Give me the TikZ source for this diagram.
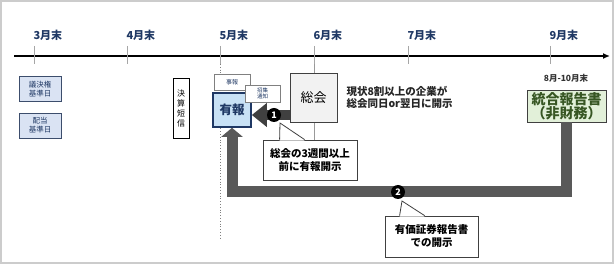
\documentclass[tikz,border=0pt]{standalone}
\usepackage{fontspec}
\setmainfont{Noto Sans CJK JP}
\usetikzlibrary{positioning,arrows.meta}
\definecolor{navy}{RGB}{31,56,100}
\definecolor{boxblue}{RGB}{218,227,243}
\definecolor{yuhoblue}{RGB}{200,225,245}
\definecolor{sokaigray}{RGB}{242,242,242}
\definecolor{togogreen}{RGB}{226,240,217}
\definecolor{togotext}{RGB}{55,86,35}
\definecolor{arrowgray}{RGB}{89,89,89}
\definecolor{darkarrow}{RGB}{64,64,64}

\begin{document}
\begin{tikzpicture}[x=1pt,y=-1pt,
  month/.style={anchor=west,font=\bfseries\fontsize{11}{11}\selectfont,text=navy},
  datebox/.style={draw=navy!70!gray,fill=boxblue,minimum width=42pt,minimum height=25pt,
    inner sep=0pt,align=center,font=\fontsize{7.5}{9}\selectfont,text=navy},
  smallbox/.style={draw=gray,fill=white,inner sep=0pt,align=center,text=navy},
  callout/.style={draw=darkarrow,fill=white,thick,minimum width=94pt,minimum height=40pt,
    inner sep=0pt,align=center,font=\bfseries\fontsize{10.5}{13}\selectfont},
  num/.style={circle,fill=black,text=white,inner sep=0pt,minimum size=14pt,
    font=\bfseries\fontsize{9}{9}\selectfont}]
  \useasboundingbox (0,0) rectangle (614,264);
  \draw[gray!40,line width=1.2pt] (1,1) rectangle (613,263);
  % timeline
  \coordinate (start) at (14,56);
  \coordinate (end) at (610,56);
  \draw[line width=1.3pt,-{Latex[length=7pt,width=6pt]}] (start) -- (end);
  \foreach \x/\m in {34/3,127/4,220/5,314/6,408/7,550/9}{
    \draw[gray!70,line width=0.8pt] (\x,46) -- (\x,64);
    \node[month] at (\x-4,35) {\m{}月末};
  }
  \draw[gray,dotted,thick] (220,64) -- (220,238);
  \draw[gray!80,line width=0.8pt] (314,64) -- (314,150);
  % boxes
  \node[datebox] (kijunbi) at (40,89) {議決権\\基準日};
  \node[datebox] (haito) at (40,125.5) {配当\\基準日};
  \node[draw=black,fill=white,thick,minimum width=16pt,minimum height=60pt,inner sep=0pt,
    align=center,font=\fontsize{8}{10}\selectfont] (tanshin) at (181,108) {決\\算\\短\\信};
  \node[smallbox,minimum width=36pt,minimum height=16pt,font=\fontsize{6}{6}\selectfont] (jiho) at (232,82) {事報};
  \node[draw=navy,line width=1.6pt,fill=yuhoblue,minimum width=38pt,minimum height=34pt,inner sep=0pt,
    text=navy,font=\bfseries\fontsize{12.5}{12.5}\selectfont] (yuho) at (232,110) {有報};
  \node[smallbox,minimum width=35pt,minimum height=17pt,font=\fontsize{5.5}{6}\selectfont] (shoshu) at (262.5,93.5) {招集\\通知};
  \node[draw=darkarrow,thick,fill=sokaigray,minimum width=47pt,minimum height=49pt,inner sep=0pt,
    font=\fontsize{13}{13}\selectfont] (sokai) at (313.5,97.5) {総会};
  \node[anchor=west,align=left,font=\bfseries\fontsize{10.5}{12}\selectfont,text=black!85] (genjo) at (343,97.5)
    {現状8割以上の企業が\\総会同日or翌日に開示};
  \node[font=\bfseries\fontsize{8.5}{8.5}\selectfont,text=black!80] (kikan) at (566,78) {8月-10月末};
  \node[draw=darkarrow,thick,fill=togogreen,minimum width=79pt,minimum height=32pt,inner sep=0pt,align=center,
    text=togotext,font=\bfseries\fontsize{14}{14}\selectfont] (togo) at (566.5,106) {統合報告書\\（非財務）};
  % arrows
  \coordinate (p1) at (274,115);
  \coordinate (p2) at (398,192);
  \draw[darkarrow,line width=10pt,-{Triangle[length=15pt,width=23pt]}] (p1 -| sokai.west) -- (p1 -| yuho.east);
  \draw[arrowgray,line width=11pt,-{Triangle[length=9pt,width=21pt]}] (togo.south) |- (p2) -| (yuho.south);
  % callouts
  \node[callout] (note1) at (310,160) {総会の3週間以上\\前に有報開示};
  \coordinate (tip1) at ([xshift=6pt,yshift=-8pt]p1);
  \fill[white] ([xshift=17pt,yshift=-1pt]note1.north west) -- (tip1) -- ([xshift=42pt,yshift=-1pt]note1.north west) -- cycle;
  \draw[darkarrow,thick] ([xshift=17pt]note1.north west) -- (tip1) -- ([xshift=42pt]note1.north west);
  \node[callout,minimum width=93pt,minimum height=41pt] (note2) at (431.5,236.5) {有価証券報告書\\での開示};
  \coordinate (tip2) at ([xshift=4pt,yshift=-9pt]p2);
  \fill[white] ([xshift=15pt,yshift=-1pt]note2.north west) -- (tip2) -- ([xshift=40pt,yshift=-1pt]note2.north west) -- cycle;
  \draw[darkarrow,thick] ([xshift=15pt]note2.north west) -- (tip2) -- ([xshift=40pt]note2.north west);
  \node[num] (num1) at (p1) {1};
  \node[num] (num2) at (p2) {2};
\end{tikzpicture}
\end{document}
